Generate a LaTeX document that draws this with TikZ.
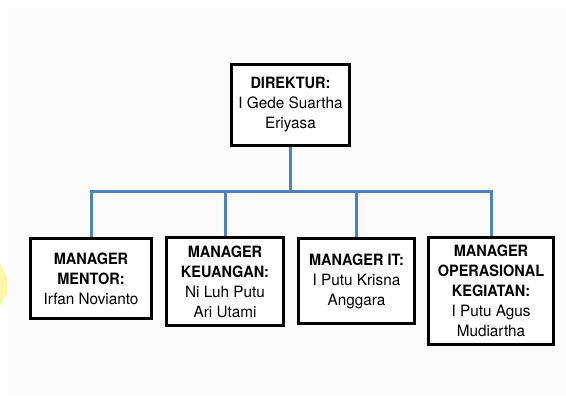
\documentclass[tikz,border=0pt]{standalone}
\usepackage{fontspec}
\setmainfont{TeX Gyre Heros}[FakeStretch=0.98, BoldFeatures={FakeStretch=0.93}]
\definecolor{connblue}{HTML}{4F81BD}
\definecolor{bggray}{HTML}{FBFBFB}
\definecolor{blobyellow}{HTML}{FBF6A8}
\begin{document}
\begin{tikzpicture}[x=1pt,y=-1pt,
  box/.style={draw=black, line width=3pt, fill=white, align=center, inner sep=0pt,
    font=\fontsize{15.6}{20}\selectfont},
  conn/.style={draw=connblue, line width=3pt, line join=miter}]
\useasboundingbox (0,0) rectangle (566,396);
\fill[bggray] (8,8) rectangle (566,393);
\fill[blobyellow] (0,263) -- (7,278) -- (7,293) -- (0,306) -- cycle;
\node[box, minimum width=118pt, minimum height=81pt] (dir) at (290.5,105)
  {\textbf{DIREKTUR:}\\I Gede Suartha\\Eriyasa};
\node[box, minimum width=121pt, minimum height=80pt] (m1) at (91,278.5)
  {\textbf{MANAGER}\\\textbf{MENTOR:}\\Irfan Novianto};
\node[box, minimum width=117pt, minimum height=88pt] (m2) at (225,281.5)
  {\textbf{MANAGER}\\\textbf{KEUANGAN:}\\Ni Luh Putu\\Ari Utami};
\node[box, minimum width=116pt, minimum height=85pt] (m3) at (356.5,281)
  {\textbf{MANAGER IT:}\\I Putu Krisna\\Anggara};
\node[box, minimum width=125pt, minimum height=107pt] (m4) at (491,291)
  {\textbf{MANAGER}\\\textbf{OPERASIONAL}\\\textbf{KEGIATAN:}\\I Putu Agus\\Mudiartha};
\coordinate (bus) at (0,192);
\draw[conn] (dir.south) -- (dir.south |- bus) -| (m1.north);
\draw[conn] (dir.south |- bus) -| (m2.north);
\draw[conn] (dir.south |- bus) -| (m3.north);
\draw[conn] (dir.south |- bus) -| (m4.north);
\end{tikzpicture}
\end{document}
